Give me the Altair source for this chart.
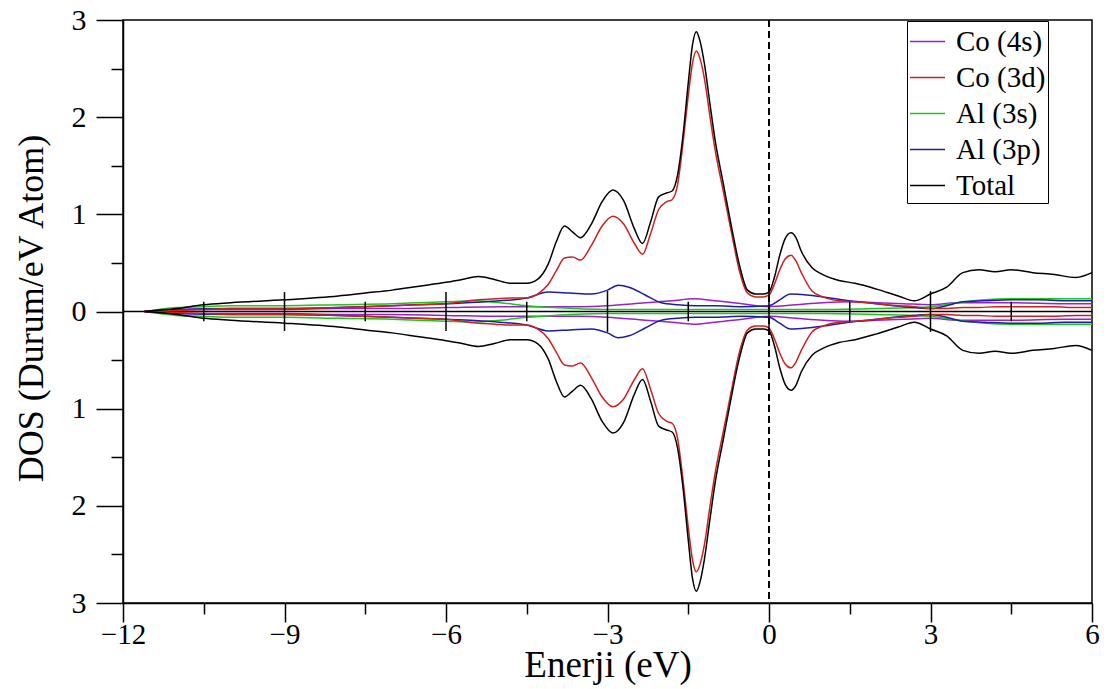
import altair as alt
import pandas as pd

# ---- values (spin-up branch; spin-down is its mirror) ----
E_total = [-11.6, -11.0, -10.5, -10.0, -9.0, -8.0, -7.5, -7.0, -6.5, -6.0, -5.7, -5.4, -5.1,
           -4.8, -4.5, -4.3, -4.1, -3.95, -3.8, -3.65, -3.5, -3.3, -3.1, -2.9, -2.7, -2.5,
           -2.35, -2.2, -2.05, -1.9, -1.8, -1.7, -1.6, -1.5, -1.42, -1.35, -1.28, -1.2, -1.1,
           -1.0, -0.85, -0.7, -0.55, -0.4, -0.25, -0.1, 0.0, 0.1, 0.2, 0.3, 0.41, 0.5, 0.6,
           0.8, 1.0, 1.3, 1.6, 2.0, 2.4, 2.7, 3.0, 3.3, 3.6, 3.9, 4.2, 4.5, 4.9, 5.3, 5.7, 6.0]
V_total = [0.0, 0.03, 0.07, 0.09, 0.12, 0.16, 0.19, 0.22, 0.26, 0.30, 0.33, 0.36, 0.33,
           0.29, 0.29, 0.33, 0.49, 0.72, 0.88, 0.82, 0.76, 0.90, 1.13, 1.25, 1.14, 0.85,
           0.70, 0.92, 1.18, 1.22, 1.24, 1.40, 1.80, 2.35, 2.75, 2.88, 2.78, 2.55, 2.15,
           1.76, 1.32, 0.88, 0.48, 0.22, 0.18, 0.18, 0.20, 0.35, 0.58, 0.75, 0.81, 0.76, 0.62,
           0.45, 0.38, 0.32, 0.29, 0.23, 0.16, 0.11, 0.18, 0.25, 0.40, 0.43, 0.41, 0.43, 0.40,
           0.38, 0.35, 0.40]

E_co3d = E_total
V_co3d = [0.0, 0.01, 0.02, 0.03, 0.03, 0.04, 0.05, 0.06, 0.07, 0.08, 0.10, 0.12, 0.13,
          0.14, 0.14, 0.18, 0.28, 0.42, 0.55, 0.56, 0.53, 0.68, 0.88, 0.98, 0.90, 0.70,
          0.59, 0.80, 1.05, 1.13, 1.15, 1.30, 1.72, 2.22, 2.56, 2.68, 2.60, 2.40, 2.02,
          1.66, 1.24, 0.82, 0.42, 0.19, 0.15, 0.15, 0.17, 0.28, 0.43, 0.54, 0.58, 0.52, 0.40,
          0.21, 0.15, 0.11, 0.10, 0.08, 0.06, 0.05, 0.03, 0.03, 0.04, 0.04, 0.05, 0.05, 0.05,
          0.05, 0.04, 0.04]

E_co4s = [-11.6, -11.0, -10.0, -9.0, -8.0, -7.0, -6.0, -5.0, -4.2, -3.5, -3.0, -2.3, -1.8,
          -1.4, -1.0, -0.5, 0.0, 0.5, 1.0, 1.5, 2.0, 2.5, 3.0, 3.5, 4.5, 5.5, 6.0]
V_co4s = [0.0, 0.02, 0.02, 0.02, 0.03, 0.03, 0.04, 0.05, 0.05, 0.05, 0.06, 0.09, 0.11,
          0.13, 0.11, 0.08, 0.05, 0.07, 0.09, 0.10, 0.09, 0.08, 0.07, 0.09, 0.09, 0.08, 0.08]

E_al3s = [-11.6, -11.0, -10.5, -10.0, -9.0, -8.0, -7.0, -6.5, -6.0, -5.5, -5.0, -4.5, -4.0,
          -3.0, -2.0, -1.0, 0.0, 1.0, 2.0, 3.0, 3.5, 4.0, 4.5, 5.0, 5.5, 6.0]
V_al3s = [0.0, 0.04, 0.05, 0.06, 0.06, 0.07, 0.08, 0.09, 0.10, 0.11, 0.09, 0.06, 0.04,
          0.02, 0.02, 0.02, 0.02, 0.02, 0.03, 0.05, 0.09, 0.12, 0.13, 0.13, 0.13, 0.13]

E_al3p = [-11.6, -11.0, -10.0, -9.0, -8.0, -7.0, -6.0, -5.0, -4.5, -4.1, -3.7, -3.3, -3.0,
          -2.8, -2.6, -2.3, -2.0, -1.7, -1.35, -1.0, -0.5, 0.0, 0.2, 0.4, 0.7, 1.0, 1.5,
          2.0, 2.5, 3.0, 3.3, 3.6, 4.0, 4.5, 5.0, 5.5, 6.0]
V_al3p = [0.0, 0.02, 0.03, 0.03, 0.04, 0.06, 0.08, 0.11, 0.14, 0.20, 0.19, 0.18, 0.22,
          0.27, 0.25, 0.17, 0.09, 0.07, 0.06, 0.06, 0.05, 0.06, 0.12, 0.18, 0.17, 0.15, 0.11,
          0.08, 0.05, 0.03, 0.06, 0.10, 0.11, 0.12, 0.12, 0.11, 0.11]

legend_names = ["Co (4s)", "Co (3d)", "Al (3s)", "Al (3p)", "Total"]
legend_colors = ["#9a1fd0", "#d0201e", "#18c818", "#1c1ca8", "#000000"]

# ticks drawn on the zero line (energy, half length in DOS units)
zero_tick_E = [-10.5, -9.0, -7.5, -6.0, -4.5, -3.0, -1.5, 0.0, 1.5, 3.0, 4.5]
zero_tick_h = [0.10, 0.20, 0.10, 0.20, 0.10, 0.21, 0.10, 0.21, 0.10, 0.21, 0.10]

x_major = [-12, -9, -6, -3, 0, 3, 6]
x_minor = [-10.5, -7.5, -4.5, -1.5, 1.5, 4.5]
y_major = [-3, -2, -1, 0, 1, 2, 3]
y_minor = [-2.5, -1.5, -0.5, 0.5, 1.5, 2.5]

# ---- build long table ----
series = [("Co (4s)", E_co4s, V_co4s), ("Al (3s)", E_al3s, V_al3s),
          ("Al (3p)", E_al3p, V_al3p), ("Co (3d)", E_co3d, V_co3d),
          ("Total", E_total, V_total)]
rows = []
for name, es, vs in series:
    for e, v in zip(es, vs):
        rows.append({"E": e, "DOS": v, "series": name, "spin": "up"})
    for e, v in zip(es, vs):
        rows.append({"E": e, "DOS": -v, "series": name, "spin": "down"})
df = pd.DataFrame(rows)

ticks_df = pd.DataFrame({"E": zero_tick_E,
                         "lo": [-h for h in zero_tick_h],
                         "hi": zero_tick_h})

FONT = "Liberation Serif"
xscale = alt.Scale(domain=[-12, 6], nice=False, zero=False)
yscale = alt.Scale(domain=[-3, 3], nice=False, zero=False)

x_axis = alt.Axis(values=x_major, title="Enerji (eV)", orient="bottom", tickSize=19,
                  labelFontSize=29, labelPadding=-2, labelFlush=False, titleFontSize=37,
                  titleBaseline="alphabetic", titleY=73, titleFontWeight="normal")
y_axis = alt.Axis(values=y_major, title="DOS (Durum/eV Atom)", orient="left", tickSize=27,
                  labelFontSize=30, labelPadding=10, labelFlush=False,
                  labelExpr="format(abs(datum.value), 'd')",
                  titleFontSize=36, titleAngle=270, titleBaseline="alphabetic",
                  titleX=-81, titleY=288, titleFontWeight="normal")

lines = alt.Chart(df).mark_line(interpolate="monotone", strokeWidth=1.5).encode(
    x=alt.X("E:Q", scale=xscale, axis=x_axis),
    y=alt.Y("DOS:Q", scale=yscale, axis=y_axis),
    color=alt.Color("series:N",
                    scale=alt.Scale(domain=legend_names, range=legend_colors),
                    legend=alt.Legend(title=None, orient="none", legendX=784, legendY=1,
                                      direction="vertical", symbolType="stroke",
                                      symbolSize=1225, symbolStrokeWidth=1.5,
                                      labelFont=FONT, labelFontSize=29, labelColor="black",
                                      labelOffset=10, rowPadding=2, padding=2,
                                      strokeColor="black", fillColor="white")),
    detail="spin:N",
)

minor_axes = alt.Chart(ticks_df).mark_rule(strokeWidth=1.5, color="black").encode(
    x=alt.X("E:Q", scale=xscale,
            axis=alt.Axis(values=x_minor, orient="bottom", tickSize=11, labels=False,
                          domain=False, title=None)),
    y=alt.Y("lo:Q", scale=yscale,
            axis=alt.Axis(values=y_minor, orient="left", tickSize=12, labels=False,
                          domain=False, title=None)),
    y2="hi:Q",
)

zero_line = alt.Chart().mark_rule(color="black", strokeWidth=1.5).encode(
    y=alt.YDatum(0, scale=yscale, axis=None))
fermi = alt.Chart().mark_rule(color="black", strokeWidth=2, strokeDash=[7, 4]).encode(
    x=alt.XDatum(0, scale=xscale, axis=None))

chart = alt.layer(zero_line, fermi, lines, minor_axes).resolve_axis(
    x="independent", y="independent"
).properties(
    width=969, height=583,
    autosize=alt.AutoSizeParams(type="none"),
    padding={"left": 123, "top": 20, "right": 27, "bottom": 86},
    background="white",
).configure_view(
    stroke="black", strokeWidth=1.5
).configure_axis(
    grid=False, domainColor="black", tickColor="black", labelColor="black",
    titleColor="black", labelFont=FONT, titleFont=FONT, domainWidth=1.5, tickWidth=1.5,
)

chart.save("out.html", embed_options={"renderer": "svg", "actions": False})
